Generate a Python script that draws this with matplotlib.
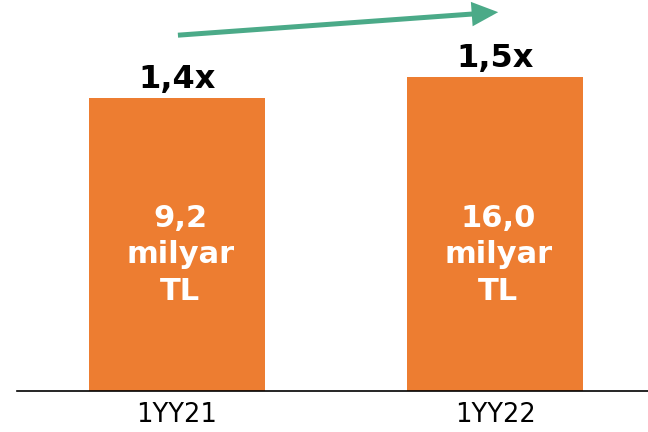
import matplotlib
matplotlib.use("Agg")
import matplotlib.pyplot as plt

categories = ["1YY21", "1YY22"]
multiples = [1.4, 1.5]
top_labels = ["1,4x", "1,5x"]
inner_labels = ["9,2\nmilyar\nTL", "16,0\nmilyar\nTL"]

bar_color = "#ED7D31"
arrow_color = "#4BAA88"

fig = plt.figure(figsize=(6.48, 4.32), dpi=100)
ax = fig.add_axes([17 / 648, (432 - 391) / 432, 1 - 17 / 648, 391 / 432])

x = list(range(len(categories)))
bars = ax.bar(x, multiples, width=0.553, color=bar_color, zorder=2)

ax.set_xlim(-0.503, 1.481)
ax.set_ylim(0, 391 / 209.3)

for xi, v, lab in zip(x, multiples, top_labels):
    ax.annotate(lab, (xi, v), xytext=(0, 7), textcoords="offset points",
                ha="center", va="baseline", fontsize=23, fontweight="bold",
                color="black")

for xi, lab in zip(x, inner_labels):
    ax.text(xi + 0.01, 0.65, lab, ha="center", va="center", fontsize=22,
            fontweight="bold", color="white", linespacing=1.32)

ax.annotate("", xy=(1.01, 1.81), xytext=(0.003, 1.70),
            arrowprops=dict(arrowstyle="-|>,head_length=1.3,head_width=0.6",
                            color=arrow_color, lw=3.6, shrinkA=0, shrinkB=0,
                            capstyle="butt", joinstyle="miter"))

ax.set_xticks(x)
ax.set_xticklabels(categories, fontsize=18.5)
ax.tick_params(axis="x", length=0, pad=8)
ax.set_yticks([])
for s in ["top", "right", "left"]:
    ax.spines[s].set_visible(False)
ax.spines["bottom"].set_linewidth(1.2)
ax.spines["bottom"].set_color("black")

fig.savefig("out.png", dpi=100)
